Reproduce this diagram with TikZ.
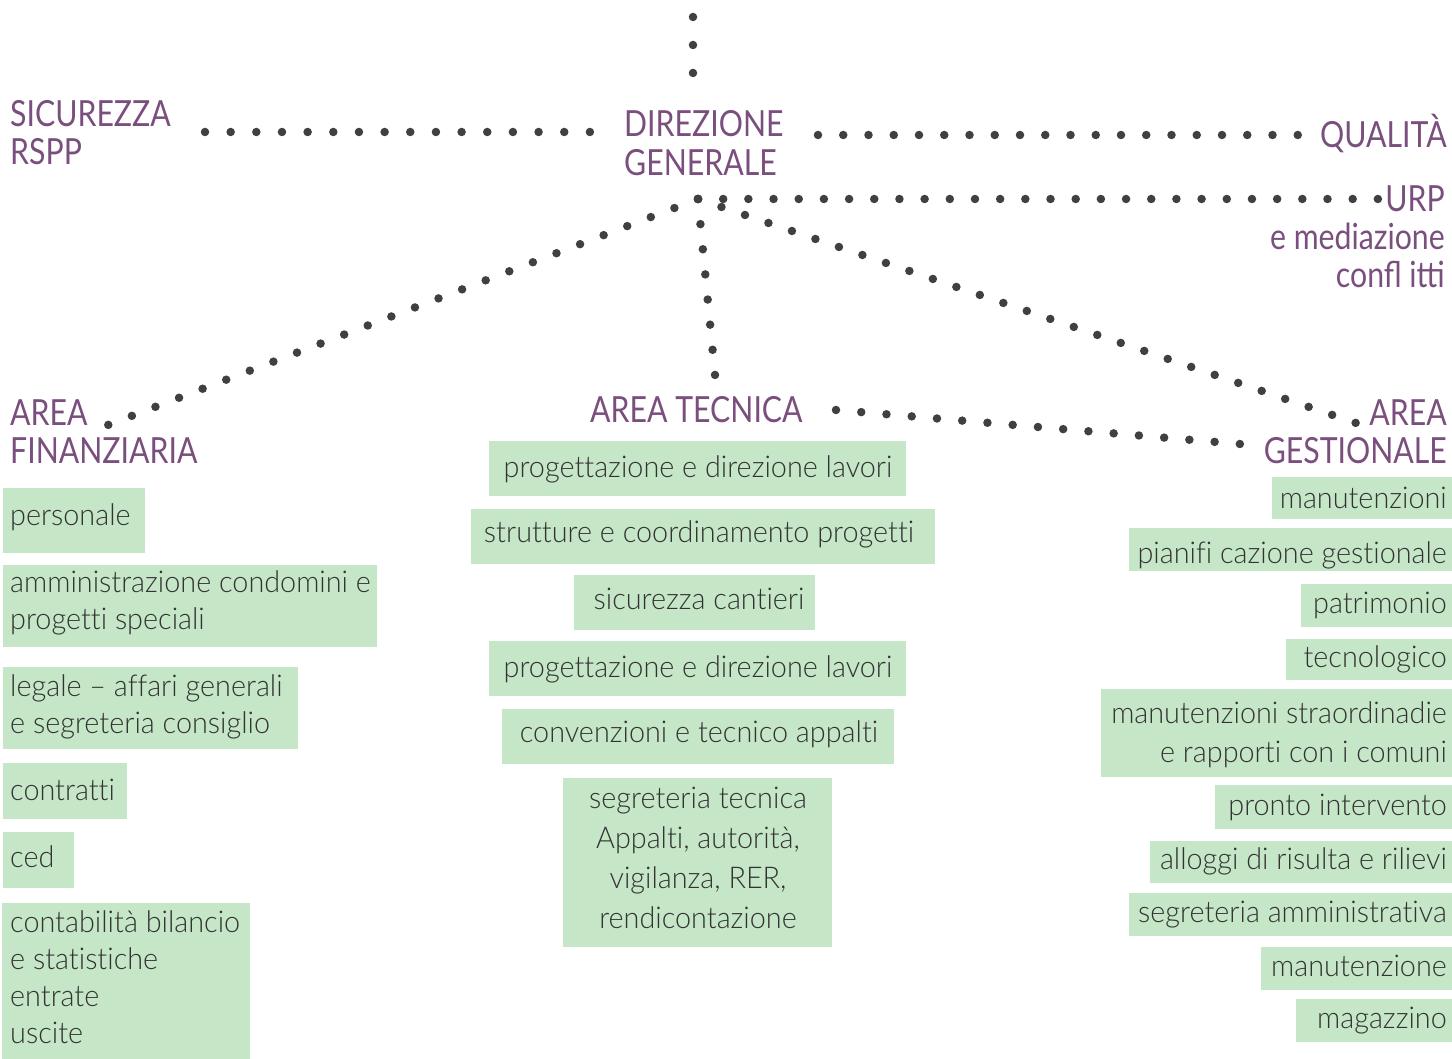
\documentclass[tikz,border=0pt]{standalone}
\usepackage{fontspec}
\newfontfamily\hdrfont{Lato}[FakeStretch=0.84]
\newfontfamily\bodyfont{Lato Light}[FakeStretch=0.96,Ligatures=NoCommon]
\definecolor{purp}{RGB}{122,78,125}
\definecolor{boxg}{RGB}{197,230,199}
\definecolor{txtc}{RGB}{51,51,51}
\definecolor{dotc}{RGB}{64,64,64}
\tikzset{
  dots/.style={draw=dotc, line width=8.5pt, line cap=round, dash pattern=on 0pt off #1pt},
  hdr/.style={text=purp, font=\hdrfont\fontsize{36}{38}\selectfont, inner sep=0pt},
  gbox/.style={fill=boxg, draw=none, inner sep=0pt, anchor=north west},
  btxt/.style={text=txtc, font=\bodyfont\fontsize{30}{37}\selectfont, inner sep=0pt},
}
\begin{document}
\begin{tikzpicture}[x=1pt,y=-1pt]
\useasboundingbox (0,0) rectangle (1452,1059);
% ---------- headers ----------
\node[hdr, anchor=base west, text width=250, align=flush left] (sic) at (10,127) {SICUREZZA\\RSPP};
\node[hdr, anchor=base west, text width=200, align=flush left] (dg) at (624,137) {DIREZIONE\\[1pt]GENERALE};
\node[hdr, anchor=base east] (qual) at (1447,148) {QUALITÀ};
\node[hdr, anchor=base east, text width=300, align=flush right] (urp) at (1445,212) {URP\\e mediazione\\confl itti};
\node[hdr, anchor=base west, text width=250, align=flush left] (fin) at (10,425) {AREA\\FINANZIARIA};
\node[hdr, anchor=base west] (tec) at (590,423) {AREA TECNICA};
\node[hdr, anchor=base east, text width=250, align=flush right] (ges) at (1447,425) {AREA\\GESTIONALE};
% ---------- connector end points ----------
\coordinate (top1) at (693,17);   \coordinate (top2) at (693,73);
\coordinate (sicE) at (205,132);  \coordinate (dgW) at (590,132);
\coordinate (dgE) at (818,135);   \coordinate (qualW) at (1298,135);
\coordinate (hub) at (698,199);   \coordinate (urpW) at (1378,199);
\coordinate (finE) at (108,425);  \coordinate (tecN) at (715,375);
\coordinate (gesN) at (1356,423); \coordinate (tecE) at (836,410);
\coordinate (gesW) at (1240,444);
% ---------- dotted connectors ----------
\draw[dots=27.99] (top1) -- (top2);
\draw[dots=25.66] (sicE) -- (dgW);
\draw[dots=25.25] (dgE) -- (qualW);
\draw[dots=25.18] (hub) -- (urpW);
\draw[dots=25.26] (hub) -- (finE);
\draw[dots=25.25] (hub) -- (tecN);
\draw[dots=24.81] (hub) -- (gesN);
\draw[dots=25.33] (tecE) -- (gesW);
% ---------- left column ----------
\node[gbox, minimum width=142, minimum height=65] (b1) at (3,488) {};
\node[btxt, anchor=base west] (t1) at (10,525) {personale};
\node[gbox, minimum width=374, minimum height=82] (b2) at (3,565) {};
\node[btxt, anchor=base west, text width=380, align=flush left] (t2) at (10,592) {amministrazione condomini e\\progetti speciali};
\node[gbox, minimum width=295, minimum height=82] (b3) at (3,667) {};
\node[btxt, anchor=base west, text width=300, align=flush left] (t3) at (10,696) {legale – affari generali\\e segreteria consiglio};
\node[gbox, minimum width=124, minimum height=56] (b4) at (3,763) {};
\node[btxt, anchor=base west] (t4) at (10,800) {contratti};
\node[gbox, minimum width=71, minimum height=56] (b5) at (3,832) {};
\node[btxt, anchor=base west] (t5) at (10,867) {ced};
\node[gbox, minimum width=248, minimum height=156] (b6) at (2,903) {};
\node[btxt, anchor=base west, text width=250, align=flush left] (t6) at (10,932) {contabilità bilancio\\e statistiche\\entrate\\uscite};
% ---------- centre column ----------
\node[gbox, minimum width=417, minimum height=55] (c1) at (489,441) {};
\node[btxt, anchor=base] (u1) at (698,477) {progettazione e direzione lavori};
\node[gbox, minimum width=464, minimum height=55] (c2) at (471,509) {};
\node[btxt, anchor=base] (u2) at (699,542) {strutture e coordinamento progetti};
\node[gbox, minimum width=241, minimum height=55] (c3) at (574,575) {};
\node[btxt, anchor=base] (u3) at (699,609) {sicurezza cantieri};
\node[gbox, minimum width=417, minimum height=55] (c4) at (489,641) {};
\node[btxt, anchor=base] (u4) at (698,677) {progettazione e direzione lavori};
\node[gbox, minimum width=392, minimum height=55] (c5) at (502,709) {};
\node[btxt, anchor=base] (u5) at (699,742) {convenzioni e tecnico appalti};
\node[gbox, minimum width=269, minimum height=169] (c6) at (563,778) {};
\node[btxt, anchor=base, text width=269, align=flush center, font=\bodyfont\fontsize{30}{40}\selectfont] (u6) at (698,808) {segreteria tecnica\\Appalti, autorità,\\vigilanza, RER,\\rendicontazione};
% ---------- right column ----------
\node[gbox, minimum width=180, minimum height=42] (r1) at (1272,477) {};
\node[btxt, anchor=base east] (s1) at (1447,508) {manutenzioni};
\node[gbox, minimum width=323, minimum height=43] (r2) at (1129,528) {};
\node[btxt, anchor=base east] (s2) at (1447,563) {pianifi cazione gestionale};
\node[gbox, minimum width=151, minimum height=43] (r3) at (1301,584) {};
\node[btxt, anchor=base east] (s3) at (1447,613) {patrimonio};
\node[gbox, minimum width=166, minimum height=41] (r4) at (1286,639) {};
\node[btxt, anchor=base east] (s4) at (1447,667) {tecnologico};
\node[gbox, minimum width=351, minimum height=88] (r5) at (1101,689) {};
\node[btxt, anchor=base east, text width=351, align=flush right, font=\bodyfont\fontsize{30}{39}\selectfont] (s5) at (1447,723) {manutenzioni straordinadie\\e rapporti con i comuni};
\node[gbox, minimum width=237, minimum height=44] (r6) at (1215,785) {};
\node[btxt, anchor=base east] (s6) at (1447,815) {pronto intervento};
\node[gbox, minimum width=302, minimum height=42] (r7) at (1150,841) {};
\node[btxt, anchor=base east] (s7) at (1447,869) {alloggi di risulta e rilievi};
\node[gbox, minimum width=323, minimum height=43] (r8) at (1129,893) {};
\node[btxt, anchor=base east] (s8) at (1447,922) {segreteria amministrativa};
\node[gbox, minimum width=191, minimum height=43] (r9) at (1261,947) {};
\node[btxt, anchor=base east] (s9) at (1447,976) {manutenzione};
\node[gbox, minimum width=156, minimum height=43] (r10) at (1296,999) {};
\node[btxt, anchor=base east] (s10) at (1447,1028) {magazzino};
\end{tikzpicture}
\end{document}
